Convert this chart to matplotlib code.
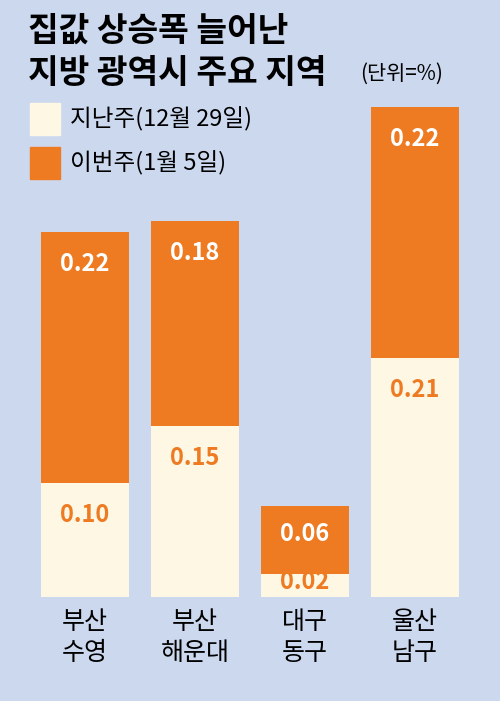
import matplotlib
matplotlib.use("Agg")
import matplotlib.pyplot as plt
from matplotlib.patches import Rectangle

plt.rcParams['font.family'] = ['Noto Sans CJK KR', 'DejaVu Sans']

regions = ["부산\n수영", "부산\n해운대", "대구\n동구", "울산\n남구"]
last_week = [0.10, 0.15, 0.02, 0.21]
this_week = [0.22, 0.18, 0.06, 0.22]
last_label = "지난주(12월 29일)"
this_label = "이번주(1월 5일)"

bg = "#cbd8ee"
orange = "#ee7a22"
cream = "#fdf7e4"

fig = plt.figure(figsize=(5, 7.01), dpi=100)
fig.patch.set_facecolor(bg)
ax = fig.add_axes([0.06, 0.148, 0.88, 0.70])
ax.set_facecolor(bg)
x = list(range(len(regions)))
ax.bar(x, last_week, width=0.8, color=cream)
ax.bar(x, this_week, bottom=last_week, width=0.8, color=orange)
for i in x:
    lw, tw = last_week[i], this_week[i]
    ylw = lw - 0.028 if lw > 0.05 else lw / 2 + 0.003
    ax.text(i, ylw, f"{lw:.2f}", ha='center', va='center',
            color=orange, fontsize=17, fontweight='bold')
    ytw = lw + tw - 0.028 if tw > 0.1 else lw + tw / 2 + 0.005
    ax.text(i, ytw, f"{tw:.2f}", ha='center', va='center', color='white',
            fontsize=17, fontweight='bold')
    ax.text(i, -0.01, regions[i], ha='center', va='top', fontsize=18,
            linespacing=1.25)
ax.set_xlim(-0.5, 3.5)
ax.set_ylim(0, 0.43)
ax.axis('off')

fig.text(0.055, 0.955, "집값 상승폭 늘어난", fontsize=24, fontweight='bold', va='center')
fig.text(0.055, 0.895, "지방 광역시 주요 지역", fontsize=24, fontweight='bold', va='center')
fig.text(0.72, 0.895, "(단위=%)", fontsize=15, va='center')
fig.patches.append(Rectangle((0.06, 0.808), 0.06, 0.045, transform=fig.transFigure, color=cream))
fig.patches.append(Rectangle((0.06, 0.745), 0.06, 0.045, transform=fig.transFigure, color=orange))
fig.text(0.14, 0.830, last_label, fontsize=17, va='center')
fig.text(0.14, 0.767, this_label, fontsize=17, va='center')

fig.savefig("out.png", dpi=100, facecolor=bg)
